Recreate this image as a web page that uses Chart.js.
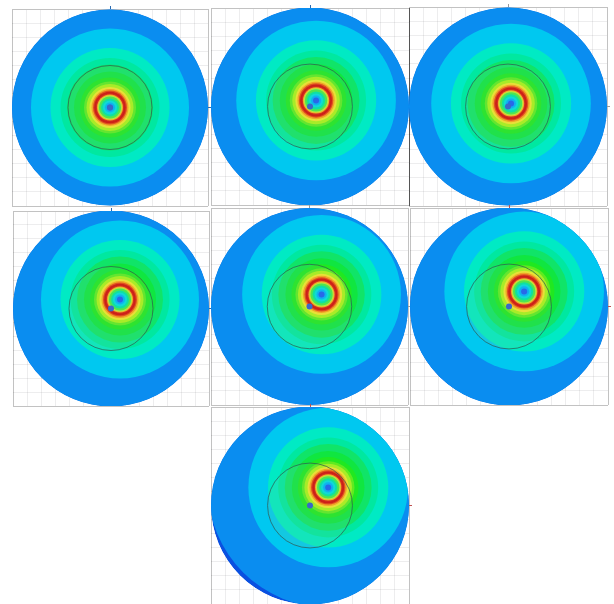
<!DOCTYPE html>
<html>
<head>
<meta charset="utf-8">
<title>Chart</title>
<script src="https://cdn.jsdelivr.net/npm/chart.js@4/dist/chart.umd.js"></script>
<style>
html, body { margin: 0; padding: 0; background: #fff; overflow: hidden; }
canvas { position: absolute; filter: blur(0.5px); }
</style>
</head>
<body>
<script>
// how far the field centre sits from the disc centre, one value per panel
const fieldX = [0, 6, 3, 9, 12, 15, 18];
const fieldY = [0, 6, 3, 9, 12, 15, 18];

// contour levels, outer to inner
const levelRadii = [119, 79, 59.5, 49.5, 43, 36, 30, 26, 23.5, 20.5, 18.5, 17, 15.8, 14, 13, 12, 11, 9, 7, 5, 3];
const levelColors = ['#0a8df0', '#00c8f0', '#00eac4', '#00e8a0', '#10e468', '#10e640', '#20e820', '#60ea20',
    '#a8ec28', '#e8e038', '#f0a428', '#e05020', '#cc2018', '#d43020', '#f0b028', '#b8e840',
    '#50e450', '#10e0a0', '#10d8d8', '#10b0f0', '#2868e8'];

const discRadius = 98;
const innerCircleRadius = 42;
const dotRadius = 3;

const axisMin = -98;
const axisMax = 98;
const axisStep = 14;

// left, top, width, height of every frame on the page
const frames = [
    [12, 9, 196, 197],
    [211, 8, 198, 197],
    [409, 7, 198, 199],
    [13, 211, 196, 195],
    [211, 208, 197, 197],
    [410, 208, 198, 197],
    [211, 407, 198, 197]
];
const tickColors = ['#2a6ab0', '#2a6ab0', '#9a9a9a', '#2a6ab0', '#9a9a9a', '#c05050', '#c05050'];

function pxRadius(chart, r) {
    const x = chart.scales.x;
    return Math.abs(x.getPixelForValue(r) - x.getPixelForValue(0));
}

// the contours only exist inside the disc
const discClip = {
    id: 'discClip',
    beforeDatasetsDraw(chart) {
        const c = chart.ctx;
        c.save();
        c.beginPath();
        c.arc(chart.scales.x.getPixelForValue(0), chart.scales.y.getPixelForValue(0), pxRadius(chart, discRadius), 0, Math.PI * 2);
        c.clip();
    },
    afterDatasetsDraw(chart) {
        chart.ctx.restore();
    }
};

function circleSet(x, y, r, fill, border, order) {
    return {
        data: [{ x: x, y: y }],
        order: order,
        pointRadius: function(ctx) { return pxRadius(ctx.chart, r); },
        pointHoverRadius: function(ctx) { return pxRadius(ctx.chart, r); },
        pointBackgroundColor: fill,
        pointBorderColor: border,
        pointBorderWidth: border === 'transparent' ? 0 : 1
    };
}

function axis(pos, p, isX) {
    return {
        type: 'linear',
        position: pos,
        min: axisMin,
        max: axisMax,
        ticks: { display: false, stepSize: axisStep, autoSkip: false },
        grid: {
            drawTicks: true,
            tickLength: 3,
            lineWidth: 1,
            color: function(ctx) {
                if (!ctx.tick) return 'rgba(0,0,20,0.07)';
                // the left edge of the third panel is a dark line in the picture
                if (p === 2 && isX && ctx.tick.value === axisMin) return '#555555';
                if (ctx.tick.value === axisMin || ctx.tick.value === axisMax) return '#c2c2c2';
                return 'rgba(0,0,20,0.07)';
            },
            tickColor: function(ctx) {
                return ctx.tick && ctx.tick.value === 0 ? tickColors[p] : 'transparent';
            }
        },
        border: { display: false }
    };
}

frames.forEach(function(f, p) {
    const cv = document.createElement('canvas');
    cv.width = f[2] + 5;
    cv.height = f[3] + 5;
    cv.style.left = (f[0] - 2) + 'px';
    cv.style.top = (f[1] - 3) + 'px';
    document.body.appendChild(cv);

    const n = levelRadii.length;
    const sets = [];
    sets.push(circleSet(0, 0, dotRadius, '#3a68c8', 'transparent', 0));
    sets.push(circleSet(0, 0, innerCircleRadius, 'transparent', 'rgba(50,85,80,0.7)', 1));
    for (let i = n - 1; i >= 0; i--) {
        sets.push(circleSet(fieldX[p], fieldY[p], levelRadii[i], levelColors[i], 'transparent', 2 + n - i));
    }
    // the tint of the inner circle lies under the hot rings
    sets.push(circleSet(0, 0, innerCircleRadius, 'rgba(130,200,140,0.15)', 'transparent', 2 + n - 7.5));
    sets.push(circleSet(0, 0, discRadius, '#0a50e0', 'transparent', 100));

    new Chart(cv, {
        type: 'scatter',
        data: { datasets: sets },
        options: {
            responsive: false,
            animation: false,
            events: [],
            layout: { padding: { left: 2, bottom: 2, top: 0, right: 0 } },
            plugins: { legend: { display: false }, tooltip: { enabled: false } },
            scales: { x: axis('top', p, true), y: axis('right', p, false) }
        },
        plugins: [discClip]
    });
});
</script>
</body>
</html>
